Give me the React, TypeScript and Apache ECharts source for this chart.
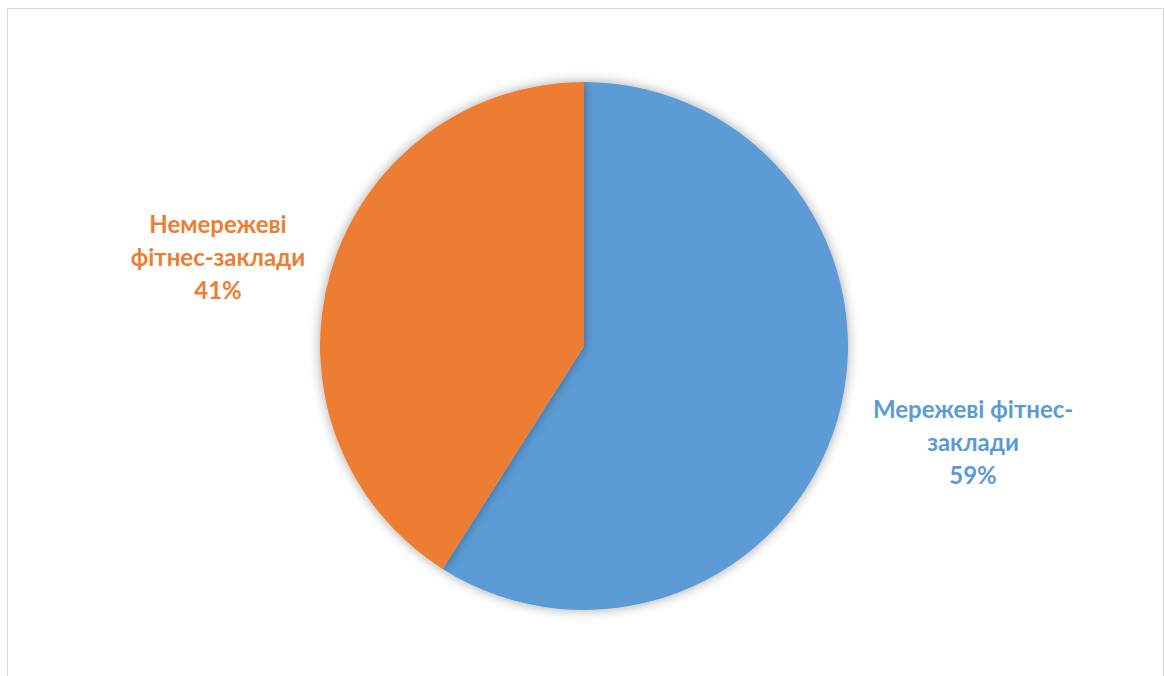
import React, { useEffect, useRef } from "react";
import * as echarts from "echarts";

const categories = ["Мережеві фітнес-\nзаклади", "Немережеві\nфітнес-заклади"];
const values = [59, 41];
const colors = ["#5B9BD5", "#ED7D31"];
const labelPositions = [
  [965, 432],
  [210, 247],
];

export default function App() {
  const ref = useRef<HTMLDivElement>(null);
  useEffect(() => {
    if (!ref.current) return;
    const chart = echarts.init(ref.current, undefined, { renderer: "svg" });
    chart.setOption({
      animation: false,
      series: [
        {
          type: "pie",
          center: [576, 337],
          radius: 264,
          startAngle: 90,
          clockwise: true,
          data: categories.map((c, i) => ({
            name: c,
            value: values[i],
            itemStyle: { color: colors[i] },
            label: { color: colors[i] },
          })),
          itemStyle: {
            shadowBlur: 12,
            shadowColor: "rgba(0,0,0,0.35)",
            borderWidth: 0,
          },
          emphasis: { disabled: true },
          label: {
            show: true,
            position: "outside",
            formatter: (p: any) => `${p.name}\n${p.value}%`,
            fontFamily: "Lato",
            fontWeight: "bold",
            fontSize: 24,
            lineHeight: 33,
            align: "center",
          },
          labelLine: { show: false },
          labelLayout: (p: any) => ({
            x: labelPositions[p.dataIndex][0],
            y: labelPositions[p.dataIndex][1],
            align: "center",
            verticalAlign: "middle",
          }),
        },
      ],
    });
    return () => chart.dispose();
  }, []);
  return (
    <div
      ref={ref}
      style={{
        position: "absolute",
        left: 7,
        top: 8,
        width: 1157,
        height: 668,
        boxSizing: "border-box",
        borderTop: "1px solid #d9d9d9",
        borderLeft: "1px solid #d9d9d9",
        borderRight: "1px solid #d9d9d9",
        background: "#fff",
      }}
    />
  );
}
